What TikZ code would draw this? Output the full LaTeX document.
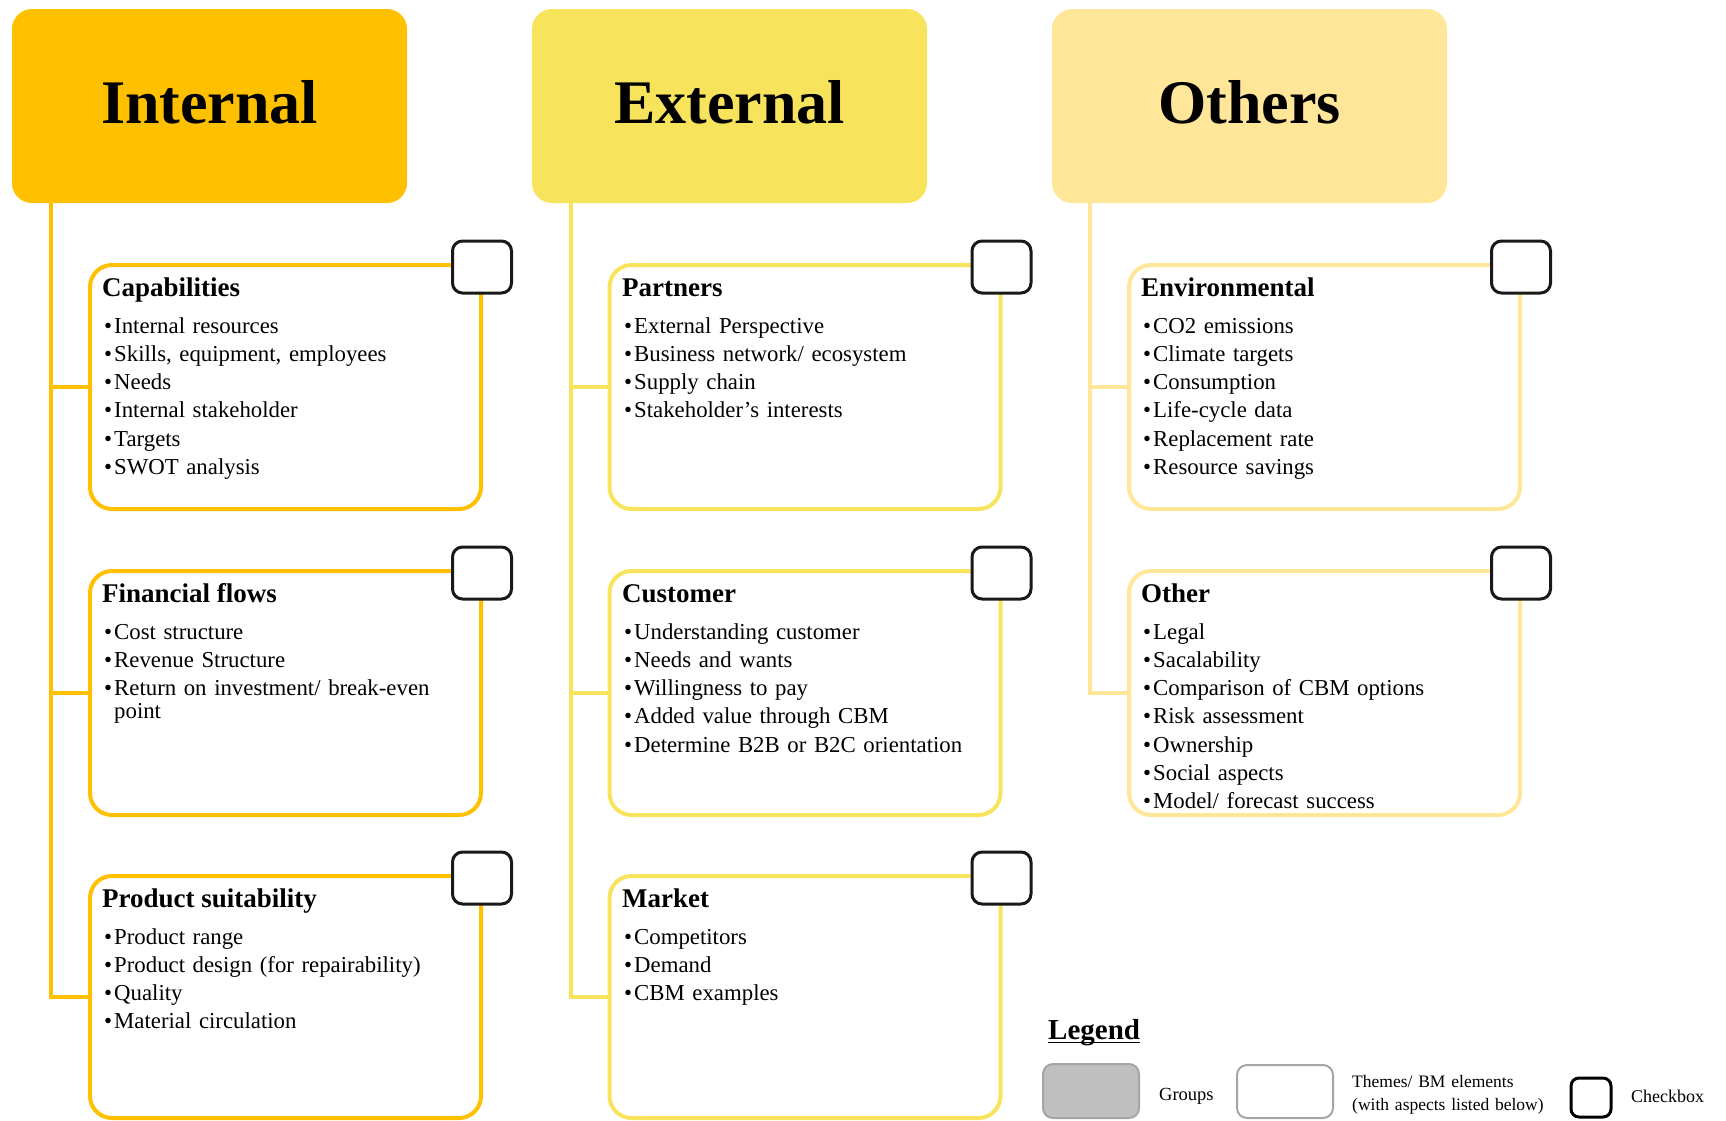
\documentclass[tikz,border=0pt]{standalone}
\usepackage{fontspec}
\setmainfont{Liberation Serif}
\definecolor{cint}{HTML}{FFC000}
\definecolor{cext}{HTML}{F8E45C}
\definecolor{coth}{HTML}{FFE699}
\definecolor{lgray}{HTML}{BFBFBF}
\definecolor{lgborder}{HTML}{A5A5A5}
\newcommand{\bl}{\makebox[10pt][l]{\textbullet}}
\begin{document}
\begin{tikzpicture}[x=1pt,y=-1pt,
  header/.style={rectangle, rounded corners=20pt, minimum width=395pt, minimum height=194pt, inner sep=0pt,
    font=\fontsize{62}{70}\selectfont\bfseries, text depth=9pt},
  theme/.style={rectangle, rounded corners=22pt, line width=4pt, minimum width=391pt, minimum height=244pt, fill=white},
  chk/.style={rectangle, rounded corners=10pt, line width=3pt, draw=black!90, fill=white,
    minimum width=59pt, minimum height=52pt, inner sep=0pt},
  ttl/.style={anchor=base west, inner sep=0pt, font=\fontsize{27}{32}\selectfont\bfseries},
  itms/.style={anchor=base west, inner sep=0pt, text width=370pt, align=left, font=\fontsize{22.8}{28.3}\selectfont},
  spine/.style={line width=4pt},
  lgtxt/.style={anchor=base west, inner sep=0pt},
]
\useasboundingbox (0,0) rectangle (1726,1120);

% headers
\node[header, fill=cint] (hint) at (209.5,106) {Internal};
\node[header, fill=cext] (hext) at (729.5,106) {External};
\node[header, fill=coth] (hoth) at (1249.5,106) {Others};

% spine coordinates
\coordinate (sint) at (50.6,0);
\coordinate (sext) at (571,0);
\coordinate (soth) at (1090,0);

% theme boxes
\node[theme, draw=cint] (cap) at (285.5,387) {};
\node[theme, draw=cint] (fin) at (285.5,693) {};
\node[theme, draw=cint, minimum height=242pt] (prod) at (285.5,997) {};
\node[theme, draw=cext] (par) at (805,387) {};
\node[theme, draw=cext] (cus) at (805,693) {};
\node[theme, draw=cext, minimum height=242pt] (mkt) at (805,997) {};
\node[theme, draw=coth] (env) at (1324.5,387) {};
\node[theme, draw=coth] (oth) at (1324.5,693) {};

% connectors
\draw[spine, cint] (sint |- hint.south) |- (cap.west);
\draw[spine, cint] (sint |- hint.south) |- (fin.west);
\draw[spine, cint] (sint |- hint.south) |- (prod.west);
\draw[spine, cext] (sext |- hext.south) |- (par.west);
\draw[spine, cext] (sext |- hext.south) |- (cus.west);
\draw[spine, cext] (sext |- hext.south) |- (mkt.west);
\draw[spine, coth] (soth |- hoth.south) |- (env.west);
\draw[spine, coth] (soth |- hoth.south) |- (oth.west);

% checkboxes
\node[chk] (capC) at ([xshift=-1pt,yshift=-4pt]cap.north east) {};
\node[chk] (finC) at ([xshift=-1pt,yshift=-4pt]fin.north east) {};
\node[chk] (prodC) at ([xshift=-1pt,yshift=-4pt]prod.north east) {};
\node[chk] (parC) at ([xshift=-1pt,yshift=-4pt]par.north east) {};
\node[chk] (cusC) at ([xshift=-1pt,yshift=-4pt]cus.north east) {};
\node[chk] (mktC) at ([xshift=-1pt,yshift=-4pt]mkt.north east) {};
\node[chk] (envC) at ([xshift=-1pt,yshift=-4pt]env.north east) {};
\node[chk] (othC) at ([xshift=-1pt,yshift=-4pt]oth.north east) {};

% titles
\node[ttl] (capT) at (102,296) {Capabilities};
\node[ttl] (finT) at (102,602) {Financial flows};
\node[ttl] (prodT) at (102,907) {Product suitability};
\node[ttl] (parT) at (622,296) {Partners};
\node[ttl] (cusT) at (622,602) {Customer};
\node[ttl] (mktT) at (622,907) {Market};
\node[ttl] (envT) at (1141,296) {Environmental};
\node[ttl] (othT) at (1141,602) {Other};

% items
\node[itms] (capL) at (104,333) {\bl Internal resources\\ \bl Skills, equipment, employees\\ \bl Needs\\ \bl Internal stakeholder\\ \bl Targets\\ \bl SWOT analysis};
\node[itms] (finL) at (104,639) {\bl Cost structure\\ \bl Revenue Structure\\ \bl Return on investment/ break-even\\[-5.3pt] \phantom{\bl}point};
\node[itms] (prodL) at (104,944) {\bl Product range\\ \bl Product design (for repairability)\\ \bl Quality\\ \bl Material circulation};
\node[itms] (parL) at (624,333) {\bl External Perspective\\ \bl Business network/ ecosystem\\ \bl Supply chain\\ \bl Stakeholder's interests};
\node[itms] (cusL) at (624,639) {\bl Understanding customer\\ \bl Needs and wants\\ \bl Willingness to pay\\ \bl Added value through CBM\\ \bl Determine B2B or B2C orientation};
\node[itms] (mktL) at (624,944) {\bl Competitors\\ \bl Demand\\ \bl CBM examples};
\node[itms] (envL) at (1143,333) {\bl CO2 emissions\\ \bl Climate targets\\ \bl Consumption\\ \bl Life-cycle data\\ \bl Replacement rate\\ \bl Resource savings};
\node[itms] (othL) at (1143,639) {\bl Legal\\ \bl Sacalability\\ \bl Comparison of CBM options\\ \bl Risk assessment\\ \bl Ownership\\ \bl Social aspects\\ \bl Model/ forecast success};

% legend
\node[lgtxt, font=\fontsize{29}{34}\selectfont\bfseries] (leg) at (1048,1039) {Legend};
\draw[line width=1.6pt] ([yshift=-3.5pt]leg.base west) -- ([yshift=-3.5pt]leg.base east);
\node[rectangle, rounded corners=10pt, fill=lgray, draw=lgborder, line width=2pt, minimum width=96pt, minimum height=54pt] (lgG) at (1091,1091) {};
\node[lgtxt, font=\fontsize{18.5}{22}\selectfont] (lgGt) at (1159,1100) {Groups};
\node[rectangle, rounded corners=10pt, fill=white, draw=lgborder, line width=2pt, minimum width=96pt, minimum height=53pt] (lgT) at (1285,1091.5) {};
\node[lgtxt, text width=210pt, align=left, font=\fontsize{17.5}{23}\selectfont] (lgTt) at (1352,1087) {Themes/ BM elements\\(with aspects listed below)};
\node[rectangle, rounded corners=8pt, fill=white, draw=black, line width=3pt, minimum width=40pt, minimum height=39pt] (lgC) at (1591,1097.5) {};
\node[lgtxt, font=\fontsize{18}{22}\selectfont] (lgCt) at (1631,1102) {Checkbox};
\end{tikzpicture}
\end{document}
